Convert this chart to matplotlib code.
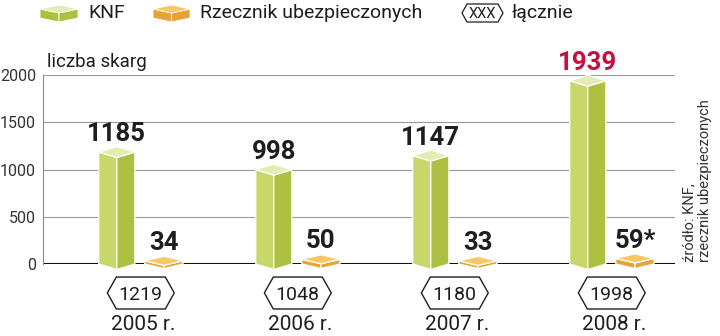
import matplotlib
matplotlib.use("Agg")
import matplotlib.pyplot as plt
from matplotlib.patches import Polygon

plt.rcParams["font.family"] = ["Roboto", "DejaVu Sans"]

# data
years = ["2005 r.", "2006 r.", "2007 r.", "2008 r."]
knf = [1185, 998, 1147, 1939]
rzecznik = [34, 50, 33, 59]
rzecznik_labels = ["34", "50", "33", "59*"]
total = [1219, 1048, 1180, 1998]
yticks = [0, 500, 1000, 1500, 2000]

GREEN_FRONT = "#c8d76a"
GREEN_SIDE = "#aec042"
GREEN_TOP = "#e4ecb2"
ORANGE_TOP = "#f8c866"
ORANGE_SIDE = "#e8a23a"
TEXT = "#1e1e1e"
RED = "#c8103e"

fig = plt.figure(figsize=(7.2, 3.36), dpi=100)
ax = fig.add_axes([43 / 720, 72 / 336, 632 / 720, 189 / 336])
ax.set_xlim(-0.47, -0.47 + 632 / 157)
ax.set_ylim(0, 2000)


def box(c, w, v, d, front, side, top, z=3):
    faces = [
        ([(c - w, 0), (c - w, v), (c, v - d), (c, -d)], front),
        ([(c, -d), (c, v - d), (c + w, v), (c + w, 0)], side),
        ([(c - w, v), (c, v + d), (c + w, v), (c, v - d)], top),
    ]
    for pts, col in faces:
        ax.add_patch(Polygon(pts, closed=True, facecolor=col, edgecolor="white",
                             linewidth=0.9, zorder=z, clip_on=False))


xfr = ax.get_xaxis_transform()
for i in range(len(years)):
    # KNF column
    box(i, 0.115, knf[i], 58, GREEN_FRONT, GREEN_SIDE, GREEN_TOP)
    ax.text(i, knf[i] + 62, str(knf[i]), ha="center", va="bottom",
            fontsize=18.5, fontweight="bold", color=RED if i == 3 else TEXT,
            zorder=5)
    # Rzecznik tile
    box(i + 0.30, 0.122, rzecznik[i], 48, ORANGE_SIDE, ORANGE_SIDE, ORANGE_TOP)
    ax.text(i + 0.30, rzecznik[i] + 62, rzecznik_labels[i], ha="center",
            va="bottom", fontsize=18.5, fontweight="bold", color=TEXT, zorder=5)
    # total hexagon
    cx = i + 0.153
    hw, ins = 0.213, 0.057
    hexpts = [(cx - hw, -0.153), (cx - hw + ins, -0.069), (cx + hw - ins, -0.069),
              (cx + hw, -0.153), (cx + hw - ins, -0.238), (cx - hw + ins, -0.238)]
    ax.add_patch(Polygon(hexpts, closed=True, facecolor="white", edgecolor=TEXT,
                         linewidth=1.0, transform=xfr, clip_on=False))
    ax.text(cx, -0.153, str(total[i]), transform=xfr, ha="center",
            va="center_baseline", fontsize=14, color=TEXT)
    ax.text(i + 0.17, -0.349, years[i], transform=xfr, ha="center",
            va="baseline", fontsize=15, color=TEXT)

ax.set_yticks(yticks)
ax.set_xticks([])
ax.tick_params(axis="y", length=0, pad=5, labelsize=11.5, labelcolor="#333333")
ax.grid(axis="y", color="#9a9a9a", linewidth=0.8)
ax.set_axisbelow(True)
for s in ["top", "right", "bottom"]:
    ax.spines[s].set_visible(False)
ax.spines["left"].set_color("#8a8a8a")
ax.spines["left"].set_linewidth(0.8)
ax.axhline(0, color="#111111", linewidth=2.2, zorder=2)

# overlay in pixel units for legend and notes
ov = fig.add_axes([0, 0, 1, 1], zorder=-1)
ov.set_xlim(0, 720)
ov.set_ylim(336, 0)
ov.axis("off")


def icon(x0, x1, top_col, side_col):
    xm = (x0 + x1) / 2
    ov.add_patch(Polygon([(x0, 9), (x0, 18), (xm, 22), (xm, 13)], facecolor=side_col,
                         edgecolor="white", linewidth=0.6))
    ov.add_patch(Polygon([(xm, 13), (xm, 22), (x1, 18), (x1, 9)], facecolor=side_col,
                         edgecolor="white", linewidth=0.6))
    ov.add_patch(Polygon([(x0, 9), (xm, 5), (x1, 9), (xm, 13)], facecolor=top_col,
                         edgecolor="white", linewidth=0.6))


icon(40, 78, GREEN_TOP, GREEN_SIDE)
ov.text(88, 13, "KNF", fontsize=14, va="center", color=TEXT)
icon(153, 190, ORANGE_TOP, ORANGE_SIDE)
ov.text(200, 13, "Rzecznik ubezpieczonych", fontsize=14, va="center", color=TEXT)
ov.add_patch(Polygon([(462, 13), (467, 4), (498, 4), (503, 13), (498, 22), (467, 22)],
                     facecolor="white", edgecolor=TEXT, linewidth=0.9))
ov.text(482.5, 13.5, "XXX", fontsize=10.5, ha="center", va="center", color=TEXT)
ov.text(512, 13, "łącznie", fontsize=14, va="center", color=TEXT)

ov.text(47, 67, "liczba skarg", fontsize=13.5, va="baseline", color=TEXT)
ov.text(50, 96, "* wstępne dane", fontsize=10, va="baseline", color="#333333")
ov.text(697, 262, "źródło: KNF,\nrzecznik ubezpieczonych", rotation=90,
        ha="center", va="bottom", multialignment="left", fontsize=10.5,
        color="#333333", linespacing=1.15)

fig.savefig("out.png", dpi=100)
